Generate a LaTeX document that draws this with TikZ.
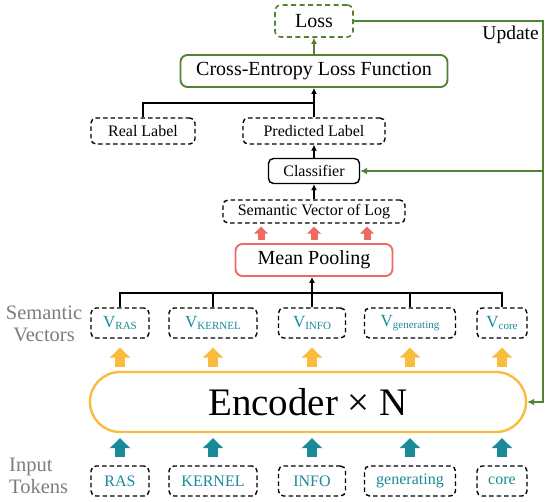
\documentclass[tikz,border=0pt]{standalone}
\usepackage{fontspec}
\setmainfont{Liberation Serif}
\usetikzlibrary{arrows.meta}
\definecolor{cgreen}{RGB}{84,130,53}
\definecolor{corange}{RGB}{250,188,62}
\definecolor{cred}{RGB}{238,106,100}
\definecolor{cteal}{RGB}{24,138,152}
\definecolor{cgray}{RGB}{125,125,125}
\newcommand{\myfs}[1]{\fontsize{#1}{#1}\selectfont}
\newcommand{\vsub}[1]{V\raisebox{-2.5pt}{\myfs{11}#1}}
\begin{document}
\begin{tikzpicture}[x=1pt,y=-1pt,
  box/.style={draw, rounded corners=5pt, line width=1.4pt, inner sep=0pt, align=center},
  dbox/.style={box, dash pattern=on 4.5pt off 3pt},
  tokbox/.style={dbox, minimum height=30pt, text=cteal, font=\myfs{16}},
  vecbox/.style={dbox, minimum height=30pt, text=cteal, font=\myfs{17}},
  lblbox/.style={dbox, minimum height=26pt, font=\myfs{16}},
  sidelbl/.style={text=cgray, font=\myfs{20.5}, inner sep=0pt, align=center},
  blk/.style={-{Latex[length=6pt,width=6pt]}, line width=1.4pt},
  tree/.style={line width=1.4pt},
  grn/.style={cgreen, line width=1.6pt},
  oarr/.style={corange, line width=9.5pt, -{Triangle[length=10pt,width=20pt]}},
  tarr/.style={cteal, line width=9.5pt, -{Triangle[length=10pt,width=20pt]}},
  rarr/.style={cred, line width=7pt, -{Triangle[length=7pt,width=14pt]}}
]
\useasboundingbox (0,0) rectangle (550,502);

% top part
\node[box, draw=cgreen, dash pattern=on 5pt off 3.5pt, line width=1.6pt, rounded corners=6pt,
      minimum width=78pt, minimum height=32pt, font=\myfs{20}] (loss) at (314,21) {Loss};
\node[box, draw=cgreen, line width=1.9pt, rounded corners=7pt,
      minimum width=267pt, minimum height=32pt, font=\myfs{20}] (ce) at (314,71) {Cross-Entropy Loss Function};
\node[lblbox, minimum width=104pt] (real) at (143,131) {Real Label};
\node[lblbox, minimum width=142pt] (pred) at (314,131) {Predicted Label};
\node[box, minimum width=91pt, minimum height=25pt, font=\myfs{16}] (cls) at (314,171) {Classifier};
\node[dbox, minimum width=182pt, minimum height=23pt, font=\myfs{16}] (svl) at (314,211.5) {Semantic Vector of Log};
\node[box, draw=cred, line width=1.9pt, rounded corners=7pt,
      minimum width=157pt, minimum height=32pt, font=\myfs{20}] (mp) at (314,260) {Mean Pooling};

% semantic vectors
\node[vecbox, minimum width=58pt] (v1) at (120,323) {\vsub{RAS}};
\node[vecbox, minimum width=88pt] (v2) at (213,323) {\vsub{KERNEL}};
\node[vecbox, minimum width=67pt] (v3) at (312,323) {\vsub{INFO}};
\node[vecbox, minimum width=91pt] (v4) at (410,323) {\vsub{generating}};
\node[vecbox, minimum width=50pt] (v5) at (502,323) {\vsub{core}};

% encoder
\node[draw=corange, line width=2.4pt, rounded corners=30pt, minimum width=436pt,
      minimum height=60pt, inner sep=0pt, font=\myfs{39}] (enc) at (308,402) {Encoder × N};

% tokens
\node[tokbox, minimum width=58pt] (t1) at (120,481) {RAS};
\node[tokbox, minimum width=88pt] (t2) at (213,481) {KERNEL};
\node[tokbox, minimum width=67pt] (t3) at (312,481) {INFO};
\node[tokbox, minimum width=91pt] (t4) at (410,481) {generating};
\node[tokbox, minimum width=50pt] (t5) at (502,481) {core};

% side labels
\node[sidelbl] (semlbl) at (44,324) {Semantic\\[2pt]Vectors};
\node[sidelbl, align=left, anchor=west] (inlbl) at (9,476) {Input\\[2pt]Tokens};
\node[font=\myfs{19.5}, inner sep=0pt, anchor=east] (upd) at (539,35) {Update};

% black connectors
\coordinate (jtop) at (314,103);
\draw[tree] (real.north) |- (jtop);
\draw[blk] (pred.north) -- (ce.south);
\draw[blk] (cls.north) -- (pred.south);
\draw[blk] (svl.north) -- (cls.south);
\coordinate (jvec) at (312,293);
\draw[tree] (v1.north) |- (jvec) -| (v5.north);
\draw[tree] (v2.north) -- (v2.north |- jvec);
\draw[tree] (v4.north) -- (v4.north |- jvec);
\draw[blk] (v3.north) -- (v3.north |- mp.south);

% green connectors
\draw[grn, -{Latex[length=6pt,width=6pt]}] (ce.north) -- (loss.south);
\coordinate (gtop) at (543,21);
\coordinate (gbot) at (543,402);
\draw[grn, -{Latex[length=7pt,width=7pt]}] (loss.east) -- (gtop) -- (gbot) -- (enc.east);
\draw[grn, -{Latex[length=7pt,width=7pt]}] (cls.east -| gtop) -- (cls.east);

% red block arrows
\foreach \dx in {-53,0,53}{
  \draw[rarr, shorten <=3pt, shorten >=3pt] ([xshift=\dx pt]mp.north) -- ([xshift=\dx pt]mp.north |- svl.south);
}

% orange block arrows
\foreach \v in {v1,v2,v3,v4,v5}{
  \draw[oarr, shorten <=4pt, shorten >=9pt] (enc.north -| \v) -- (\v.south);
}
% teal block arrows
\foreach \t in {t1,t2,t3,t4,t5}{
  \draw[tarr, shorten <=8pt, shorten >=5pt] (\t.north) -- (enc.south -| \t);
}
\end{tikzpicture}
\end{document}
